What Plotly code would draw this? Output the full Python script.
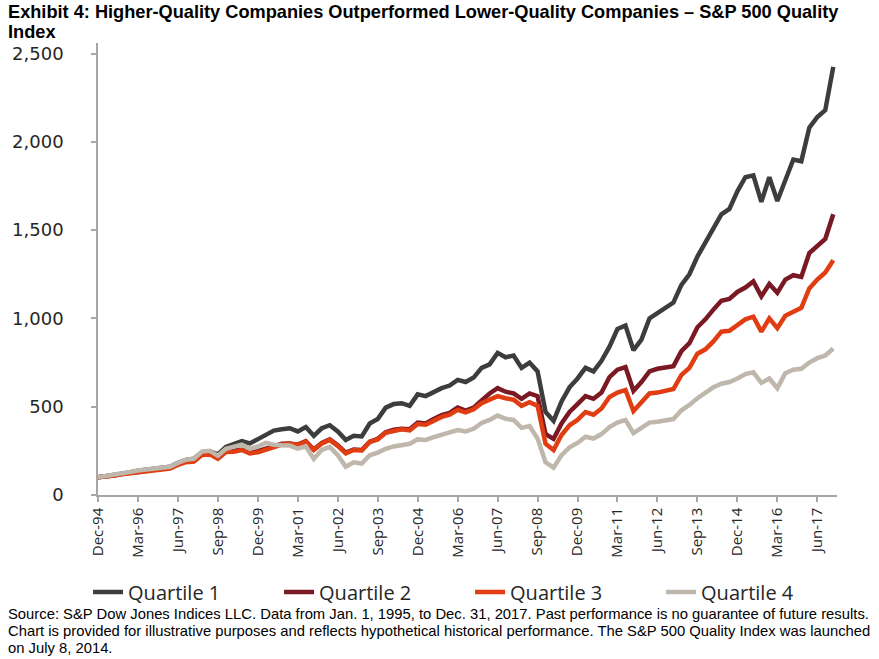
import plotly.graph_objects as go

# ---------------- data (quarterly readings, month offset from Dec-94) ----------------
months = list(range(0, 277, 3))  # Dec-94 ... Dec-17 (quarter ends)

quartile_1 = [100, 106, 114, 122, 128, 137, 143, 147, 158, 160, 182, 198, 205, 242, 248, 230,
              272, 290, 305, 292, 318, 345, 365, 372, 378, 360, 385, 335, 378, 395, 360, 312,
              335, 332, 405, 430, 495, 515, 520, 505, 570, 560, 585, 605, 620, 652, 640, 665,
              720, 740, 805, 780, 790, 720, 750, 700, 470, 420, 530, 610, 660, 720, 700, 760,
              840, 940, 960, 820, 880, 1000, 1030, 1060, 1090, 1190, 1250, 1350, 1430, 1520, 1590, 1620,
              1720, 1800, 1810, 1660, 1800, 1665, 1780, 1900, 1890, 2080, 2140, 2180, 2425]
quartile_2 = [100, 104, 111, 119, 125, 133, 139, 142, 153, 155, 176, 192, 196, 232, 236, 212,
              250, 250, 262, 240, 248, 262, 275, 290, 292, 285, 305, 258, 295, 315, 282, 240,
              258, 255, 302, 318, 355, 370, 375, 372, 410, 405, 430, 452, 465, 495, 478, 495,
              535, 575, 605, 585, 575, 545, 575, 560, 345, 318, 405, 470, 515, 560, 545, 580,
              668, 710, 725, 590, 640, 700, 715, 720, 730, 815, 860, 950, 995, 1050, 1100, 1110,
              1150, 1175, 1210, 1125, 1195, 1145, 1220, 1245, 1235, 1370, 1410, 1450, 1590]
quartile_3 = [100, 103, 110, 117, 122, 130, 135, 138, 148, 150, 170, 186, 190, 226, 230, 205,
              244, 245, 255, 236, 242, 258, 272, 286, 290, 283, 302, 255, 292, 312, 278, 236,
              255, 252, 300, 315, 352, 365, 372, 366, 402, 398, 420, 442, 455, 482, 468, 485,
              520, 540, 560, 548, 540, 505, 525, 505, 290, 255, 340, 395, 425, 470, 455, 490,
              555, 580, 595, 475, 525, 575, 580, 590, 600, 680, 720, 800, 825, 870, 925, 930,
              960, 995, 1010, 925, 1000, 945, 1015, 1040, 1060, 1170, 1220, 1260, 1330]
quartile_4 = [100, 106, 115, 124, 130, 139, 145, 147, 158, 160, 182, 200, 205, 246, 250, 222,
              262, 275, 285, 262, 275, 295, 285, 282, 280, 262, 275, 205, 255, 272, 225, 160,
              185, 178, 225, 240, 262, 275, 282, 290, 315, 312, 328, 340, 350, 368, 360, 375,
              408, 425, 450, 432, 425, 380, 390, 320, 185, 155, 225, 270, 295, 330, 320, 345,
              385, 410, 425, 350, 380, 410, 415, 425, 430, 480, 510, 548, 578, 610, 630, 640,
              660, 685, 695, 635, 660, 605, 690, 710, 715, 750, 775, 790, 830]

series_names = ["Quartile 1", "Quartile 2", "Quartile 3", "Quartile 4"]
series_colors = ["#3d3d3d", "#7a1824", "#e03d12", "#bfb7ab"]

tick_months = list(range(0, 271, 15))
tick_labels = ["Dec-94", "Mar-96", "Jun-97", "Sep-98", "Dec-99", "Mar-01", "Jun-02", "Sep-03",
               "Dec-04", "Mar-06", "Jun-07", "Sep-08", "Dec-09", "Mar-11", "Jun-12", "Sep-13",
               "Dec-14", "Mar-16", "Jun-17"]
y_ticks = [0, 500, 1000, 1500, 2000, 2500]

title_lines = ["Exhibit 4: Higher-Quality Companies Outperformed Lower-Quality Companies \u2013 S&P 500 Quality",
               "Index"]
source_lines = [
    "Source: S&P Dow Jones Indices LLC. Data from Jan. 1, 1995, to Dec. 31, 2017. Past performance is no guarantee of future results.",
    "Chart is provided for illustrative purposes and reflects hypothetical historical performance. The S&P 500 Quality Index was launched",
    "on July 8, 2014.",
]

# ---------------- layout geometry (pixels) ----------------
W, H = 879, 659
L, R, T, B = 94, 42, 43, 164
pw, ph = W - L - R, H - T - B


def px_x(x):
    return (x - L) / pw


def px_y(y):
    return (H - B - y) / ph


fig = go.Figure()
for name, vals, col in zip(series_names,
                           [quartile_1, quartile_2, quartile_3, quartile_4],
                           series_colors):
    fig.add_trace(go.Scatter(x=months, y=vals, mode="lines", name=name,
                             line=dict(color=col, width=4.5)))

annotations = []
title_tops = [1, 21]
for line, top in zip(title_lines, title_tops):
    annotations.append(dict(text="<b>" + line + "</b>", x=px_x(3), y=px_y(top),
                            xref="paper", yref="paper", xanchor="left", yanchor="top",
                            showarrow=False, borderpad=0,
                            font=dict(family="Liberation Sans, Arial", size=18.2, color="#000000")))
for i, line in enumerate(source_lines):
    annotations.append(dict(text=line, x=px_x(3), y=px_y(604.5 + i * 17),
                            xref="paper", yref="paper", xanchor="left", yanchor="top",
                            showarrow=False, borderpad=0,
                            font=dict(family="Liberation Sans, Arial", size=14.8, color="#000000")))

fig.update_layout(
    width=W, height=H,
    margin=dict(l=L, r=R, t=T, b=B, pad=0),
    paper_bgcolor="white", plot_bgcolor="white",
    showlegend=True,
    legend=dict(orientation="h", x=px_x(84), y=px_y(592), xanchor="left", yanchor="middle",
                entrywidth=146, entrywidthmode="pixels",
                font=dict(family="Open Sans, Liberation Sans", size=20, color="#262626"),
                bgcolor="rgba(0,0,0,0)", traceorder="normal"),
    annotations=annotations,
    xaxis=dict(range=[0, 277.4], tickmode="array", tickvals=tick_months, ticktext=tick_labels,
               tickangle=-90, ticks="outside", ticklen=5, tickcolor="#a6a6a6", tickwidth=1.5,
               showline=True, linecolor="#a6a6a6", linewidth=1.5, showgrid=False, zeroline=False,
               tickfont=dict(family="Open Sans, Liberation Sans", size=15, color="#262626")),
    yaxis=dict(range=[0, 2560], tickmode="array", tickvals=y_ticks, tickformat=",d",
               ticks="outside", ticklen=5, tickcolor="#a6a6a6", tickwidth=1.5,
               showline=True, linecolor="#a6a6a6", linewidth=1.5, showgrid=False, zeroline=False,
               ticklabelstandoff=24,
               tickfont=dict(family="DejaVu Sans", size=18, color="#262626")),
)

# remove the default page margin so the figure sits at the window's top-left corner
fig.write_html("out.html", config={"displayModeBar": False},
               post_script="document.body.style.margin='0';")
